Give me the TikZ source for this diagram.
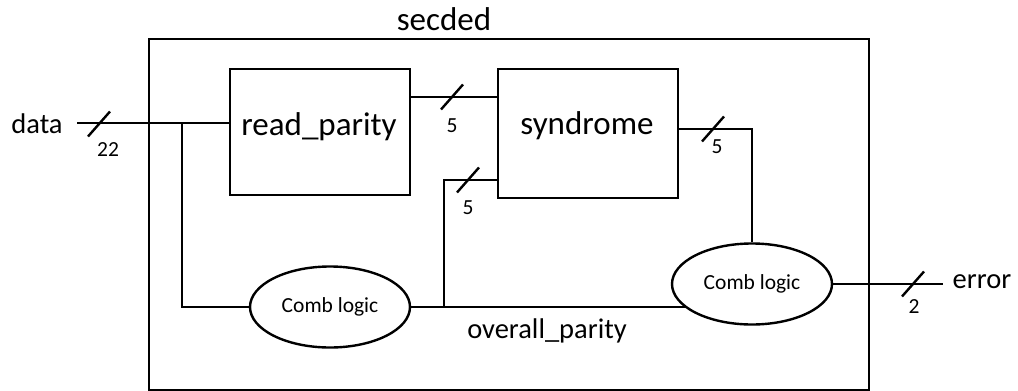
\documentclass[tikz,border=0pt]{standalone}
\usepackage{fontspec}
\setmainfont{Carlito}
\usetikzlibrary{shapes.geometric,backgrounds,calc}
\begin{document}
\begin{tikzpicture}[x=1pt,y=-1pt,
  wire/.style={line width=2.4pt},
  block/.style={draw,line width=2.4pt,fill=white,inner sep=0pt},
  logic/.style={draw,ellipse,line width=2.4pt,fill=white,inner sep=0pt,
    minimum width=160pt,minimum height=81pt,font=\fontsize{21.5}{21.5}\selectfont},
  big/.style={font=\fontsize{28.5}{28.5}\selectfont,inner sep=0pt},
  huge/.style={font=\fontsize{33}{33}\selectfont,inner sep=0pt},
  width/.style={font=\fontsize{21.5}{21.5}\selectfont,inner sep=0pt},
  bus/.style={line width=2.4pt,shift={#1},
    insert path={(-11,12.5) -- (11,-12.5)}}]
\useasboundingbox (0,0) rectangle (1018,391);

% enclosing module
\node[block,anchor=north west,minimum width=720pt,minimum height=351pt,fill=none]
  (secded) at (148,38) {};
\node[huge] (title) at (444,19) {secded};

% sub-blocks
\node[block,anchor=north west,minimum width=180pt,minimum height=126pt] (rp) at (229,68) {};
\node[huge,anchor=base] (rptext) at (319,135) {read\_parity};
\node[block,anchor=north west,minimum width=180pt,minimum height=129pt] (syn) at (497,68) {};
\node[huge,anchor=base] (syntext) at (587,134) {syndrome};

\node[logic] (c1) at (330,307) {Comb logic};
\node[logic] (c2) at (752,284) {Comb logic};

% ports and junctions
\node[big] (data) at (37,124) {data};
\node[big] (error) at (982,282) {error};
\coordinate (din) at (77,123);
\coordinate (j) at (182,123);
\coordinate (eout) at (943,284);
\coordinate (m) at (444,307);
\coordinate (sin2) at (497,180);
\coordinate (sout) at (678,129);
\coordinate (rpout) at (409,97);

\begin{scope}[on background layer]
  \draw[wire] (din) -- (din -| rp.west);
  \draw[wire] (j) |- (c1.west);
  \draw[wire] (rpout) -- (rpout -| syn.west);
  \draw[wire] (c1.east) -- (c1.east -| c2.center);
  \draw[wire] (m) |- (sin2);
  \draw[wire] (sout) -| (c2.north);
  \draw[wire] (c2.center) -- (eout);
\end{scope}

% bus width marks
\draw[bus={(99,124)}];
\draw[bus={(452,97)}];
\draw[bus={(468,180)}];
\draw[bus={(713,129)}];
\draw[bus={(913,284)}];
\node[width] (w22) at (108,150) {22};
\node[width] (w5a) at (452,126) {5};
\node[width] (w5b) at (468,208) {5};
\node[width] (w5c) at (717,147) {5};
\node[width] (w2) at (914,307) {2};

\node[big] (op) at (547,331) {overall\_parity};
\end{tikzpicture}
\end{document}
